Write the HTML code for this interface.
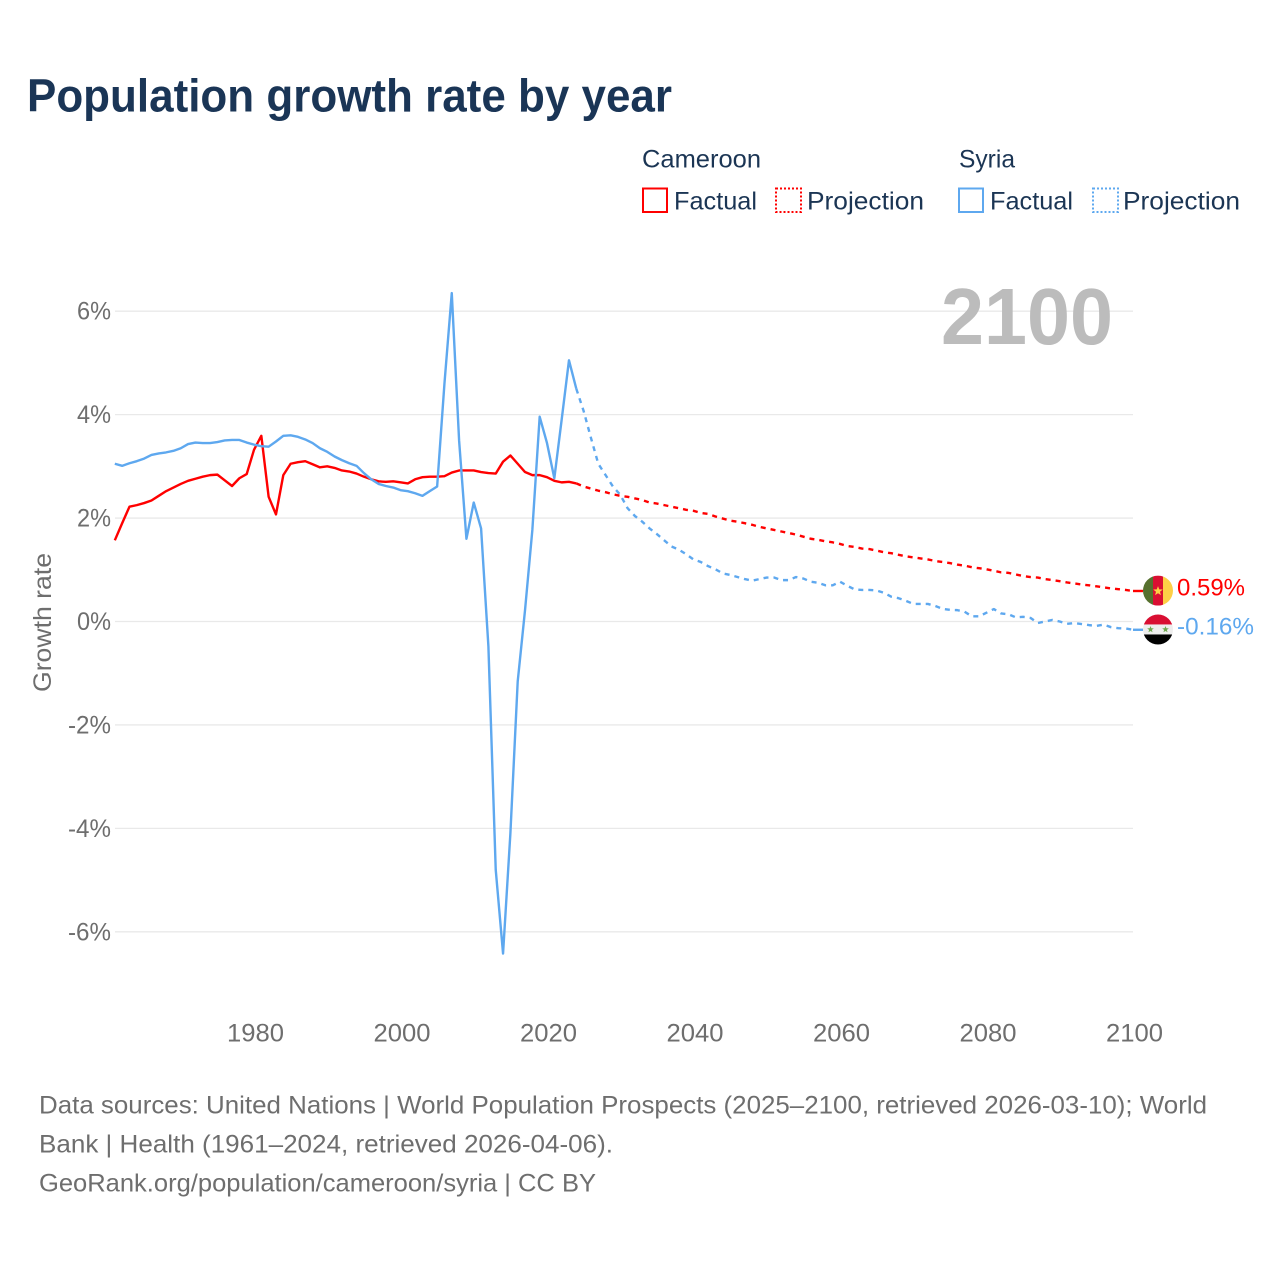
<!DOCTYPE html>
<html lang="en">
<head>
<meta charset="utf-8">
<title>Population growth rate by year</title>
<style>
html,body{margin:0;padding:0;background:#fff;}
svg{display:block;font-family:"Liberation Sans",sans-serif;}
.foot{font-size:25px;fill:#6e6e6e;}
.leg{font-size:25px;fill:#1b3554;}
.tick{font-size:25px;fill:#6e6e6e;}
</style>
</head>
<body>
<svg id="chart" xmlns="http://www.w3.org/2000/svg" width="1280" height="1280" viewBox="0 0 1280 1280">
  <rect width="1280" height="1280" fill="#ffffff"/>
  <text x="27" y="111.5" font-size="46" font-weight="700" fill="#1a3556" textLength="645" lengthAdjust="spacingAndGlyphs">Population growth rate by year</text>

  <g>
    <text class="leg" x="642" y="167.5" textLength="119" lengthAdjust="spacingAndGlyphs">Cameroon</text>
    <rect x="643" y="188.5" width="24" height="23.5" fill="none" stroke="#ff0000" stroke-width="2"/>
    <text class="leg" x="674" y="209.5" textLength="83" lengthAdjust="spacingAndGlyphs">Factual</text>
    <rect x="776" y="188.5" width="25" height="23.5" fill="none" stroke="#ff0000" stroke-width="2" stroke-dasharray="2 2"/>
    <text class="leg" x="807" y="209.5" textLength="117" lengthAdjust="spacingAndGlyphs">Projection</text>
    <text class="leg" x="959" y="167.5" textLength="56" lengthAdjust="spacingAndGlyphs">Syria</text>
    <rect x="959" y="188.5" width="24" height="23.5" fill="none" stroke="#5ea8ef" stroke-width="2"/>
    <text class="leg" x="990" y="209.5" textLength="83" lengthAdjust="spacingAndGlyphs">Factual</text>
    <rect x="1093" y="188.5" width="25" height="23.5" fill="none" stroke="#5ea8ef" stroke-width="2" stroke-dasharray="2 2"/>
    <text class="leg" x="1123" y="209.5" textLength="117" lengthAdjust="spacingAndGlyphs">Projection</text>
  </g>

  <g id="grid"></g>
  <g id="yticks"></g>
  <g id="xticks"></g>

  <text transform="translate(51,622.5) rotate(-90)" text-anchor="middle" font-size="25" fill="#6e6e6e" textLength="139" lengthAdjust="spacingAndGlyphs">Growth rate</text>
  <text x="941" y="344" font-size="80" font-weight="700" fill="#bcbcbc" textLength="172" lengthAdjust="spacingAndGlyphs">2100</text>

  <g id="series"></g>
  <g id="ends"></g>

  <text class="foot" x="39" y="1113.5" textLength="1168" lengthAdjust="spacingAndGlyphs">Data sources: United Nations | World Population Prospects (2025–2100, retrieved 2026-03-10); World</text>
  <text class="foot" x="39" y="1152.5" textLength="574" lengthAdjust="spacingAndGlyphs">Bank | Health (1961–2024, retrieved 2026-04-06).</text>
  <text class="foot" x="39" y="1191.5" textLength="557" lengthAdjust="spacingAndGlyphs">GeoRank.org/population/cameroon/syria | CC BY</text>
</svg>
<script>
const factualStartYear = 1961;
const projectionStartYear = 2024;
const xTickYears = [1980, 2000, 2020, 2040, 2060, 2080, 2100];
const yTickValues = [6, 4, 2, 0, -2, -4, -6];

const cameroonFactual = [
  1.57,1.90,2.22,2.25,2.29,2.34,2.43,2.52,2.59,2.66,
  2.72,2.76,2.80,2.83,2.84,2.73,2.62,2.77,2.85,3.32,
  3.59,2.41,2.07,2.83,3.05,3.08,3.10,3.04,2.98,3.00,
  2.97,2.92,2.90,2.86,2.80,2.75,2.71,2.70,2.71,2.69,
  2.67,2.75,2.79,2.80,2.80,2.81,2.88,2.92,2.92,2.92,
  2.89,2.87,2.86,3.09,3.21,3.05,2.89,2.83,2.83,2.79,
  2.72,2.69,2.70,2.67
];
const syriaFactual = [
  3.05,3.01,3.06,3.10,3.15,3.22,3.25,3.27,3.30,3.35,
  3.43,3.46,3.45,3.45,3.47,3.50,3.51,3.51,3.46,3.42,
  3.39,3.38,3.48,3.59,3.60,3.57,3.52,3.45,3.35,3.28,
  3.19,3.12,3.06,3.01,2.87,2.75,2.66,2.62,2.59,2.54,
  2.52,2.48,2.43,2.52,2.61,4.60,6.35,3.50,1.60,2.30,
  1.80,-0.48,-4.80,-6.42,-4.10,-1.16,0.22,1.77,3.96,3.45,
  2.77,3.90,5.05,4.50
];
const cameroonProjection = [
  2.67,2.61,2.57,2.53,2.50,2.46,2.43,2.41,2.38,2.35,
  2.30,2.28,2.25,2.22,2.19,2.16,2.14,2.10,2.08,2.03,
  1.99,1.95,1.93,1.90,1.87,1.83,1.80,1.77,1.74,1.71,
  1.68,1.64,1.60,1.58,1.55,1.53,1.50,1.46,1.44,1.41,
  1.40,1.37,1.34,1.32,1.29,1.26,1.24,1.22,1.20,1.17,
  1.15,1.13,1.10,1.08,1.05,1.03,1.01,0.98,0.95,0.94,
  0.91,0.88,0.86,0.85,0.82,0.80,0.78,0.755,0.735,0.715,
  0.70,0.68,0.66,0.64,0.625,0.61,0.59
];
const syriaProjection = [
  4.50,4.07,3.55,3.05,2.83,2.61,2.45,2.19,2.04,1.93,
  1.80,1.69,1.57,1.45,1.39,1.30,1.20,1.15,1.07,1.01,
  0.93,0.90,0.86,0.82,0.79,0.82,0.85,0.85,0.80,0.80,
  0.86,0.83,0.77,0.75,0.70,0.70,0.77,0.69,0.62,0.61,
  0.61,0.60,0.555,0.48,0.45,0.40,0.34,0.34,0.34,0.30,
  0.245,0.225,0.22,0.19,0.10,0.10,0.17,0.24,0.155,0.14,
  0.08,0.09,0.07,-0.03,0.00,0.03,0.00,-0.045,-0.03,-0.05,
  -0.07,-0.085,-0.06,-0.11,-0.13,-0.135,-0.16
];

const NS = 'http://www.w3.org/2000/svg';
const RED = '#ff0000';
const BLUE = '#5ea8ef';

function xScale(year) { return 254 + (year - 1980) * 7.325; }
function yScale(value) { return 621.5 - value * 51.72; }

function make(tag, attrs, parent) {
  const el = document.createElementNS(NS, tag);
  Object.keys(attrs).forEach(function (k) { el.setAttribute(k, attrs[k]); });
  parent.appendChild(el);
  return el;
}

function linePath(values, startYear) {
  return values.map(function (v, i) {
    return (i ? 'L' : 'M') + xScale(startYear + i).toFixed(2) + ' ' + yScale(v).toFixed(2);
  }).join('');
}

const gridG = document.getElementById('grid');
const yG = document.getElementById('yticks');
const xG = document.getElementById('xticks');
const seriesG = document.getElementById('series');
const endsG = document.getElementById('ends');

yTickValues.forEach(function (v) {
  const g = make('line', {x1: 115, x2: 1133, y1: yScale(v), y2: yScale(v), stroke: '#e9e9e9', 'stroke-width': 1.3}, gridG);
  
  
  const t = make('text', {x: 111, y: yScale(v) + 8.5, 'text-anchor': 'end', class: 'tick', textLength: v < 0 ? 43 : 34, lengthAdjust: 'spacingAndGlyphs'}, yG);
  
  
  t.textContent = v + '%';
});

xTickYears.forEach(function (yr) {
  const t = make('text', {x: xScale(yr) + 1.5, y: 1041.5, 'text-anchor': 'middle', class: 'tick', textLength: 57, lengthAdjust: 'spacingAndGlyphs'}, xG);
  
  
  t.textContent = yr;
});

const commonLine = {fill: 'none', 'stroke-width': 2.4, 'stroke-linejoin': 'round'};

const cameroonFactualLine = make('path', Object.assign({d: linePath(cameroonFactual, factualStartYear), stroke: RED}, commonLine), seriesG);



const syriaFactualLine = make('path', Object.assign({d: linePath(syriaFactual, factualStartYear), stroke: BLUE}, commonLine), seriesG);



const syriaProjectionLine = make('path', Object.assign({d: linePath(syriaProjection, projectionStartYear), stroke: BLUE, 'stroke-dasharray': '5 5'}, commonLine), seriesG);



const cameroonProjectionLine = make('path', Object.assign({d: linePath(cameroonProjection, projectionStartYear), stroke: RED, 'stroke-dasharray': '5 5'}, commonLine), seriesG);



const lastYear = projectionStartYear + cameroonProjection.length - 1;
const cameroonLast = cameroonProjection[cameroonProjection.length - 1];
const syriaLast = syriaProjection[syriaProjection.length - 1];

const leadC = make('line', {x1: xScale(lastYear), x2: xScale(lastYear) + 10, y1: yScale(cameroonLast), y2: yScale(cameroonLast), stroke: RED, 'stroke-width': 2.4}, endsG);


const leadS = make('line', {x1: xScale(lastYear), x2: xScale(lastYear) + 10, y1: yScale(syriaLast), y2: yScale(syriaLast), stroke: BLUE, 'stroke-width': 2.4}, endsG);



function star(cx, cy, r, fill, parent) {
  let pts = [];
  for (let i = 0; i < 10; i++) {
    const a = -Math.PI / 2 + i * Math.PI / 5;
    const rr = i % 2 ? r * 0.42 : r;
    pts.push((cx + rr * Math.cos(a)).toFixed(2) + ',' + (cy + rr * Math.sin(a)).toFixed(2));
  }
  return make('polygon', {points: pts.join(' '), fill: fill}, parent);
}

const defs = make('defs', {}, endsG);
const fcx = xScale(lastYear) + 25;
const cCy = yScale(cameroonLast) - 0.4;
const sCy = yScale(syriaLast) - 0.3;
const clipC = make('clipPath', {id: 'clip-cameroon'}, defs);
make('circle', {cx: fcx, cy: cCy, r: 15}, clipC);
const clipS = make('clipPath', {id: 'clip-syria'}, defs);
make('circle', {cx: fcx, cy: sCy, r: 15}, clipS);

const flagC = make('g', {'clip-path': 'url(#clip-cameroon)'}, endsG);


make('rect', {x: fcx - 15, y: cCy - 15, width: 10, height: 30, fill: '#56702e'}, flagC);
make('rect', {x: fcx - 5, y: cCy - 15, width: 10, height: 30, fill: '#d90f32'}, flagC);
make('rect', {x: fcx + 5, y: cCy - 15, width: 10, height: 30, fill: '#fdcf46'}, flagC);
star(fcx, cCy + 0.5, 5, '#fdcf46', flagC);

const flagS = make('g', {'clip-path': 'url(#clip-syria)'}, endsG);


make('rect', {x: fcx - 15, y: sCy - 15, width: 30, height: 10, fill: '#d90f32'}, flagS);
make('rect', {x: fcx - 15, y: sCy - 5, width: 30, height: 10, fill: '#eeeeee'}, flagS);
make('rect', {x: fcx - 15, y: sCy + 5, width: 30, height: 10, fill: '#000000'}, flagS);
star(fcx - 7.5, sCy, 3.5, '#6fa84f', flagS);
star(fcx + 7.5, sCy, 3.5, '#6fa84f', flagS);

const labC = make('text', {x: xScale(lastYear) + 44, y: yScale(cameroonLast) + 4.5, 'font-size': 24.5, fill: RED, textLength: 68, lengthAdjust: 'spacingAndGlyphs'}, endsG);


labC.textContent = cameroonLast.toFixed(2) + '%';

const labS = make('text', {x: xScale(lastYear) + 44, y: yScale(syriaLast) + 4.5, 'font-size': 24.5, fill: BLUE, textLength: 77, lengthAdjust: 'spacingAndGlyphs'}, endsG);


labS.textContent = syriaLast.toFixed(2) + '%';
</script>
</body>
</html>
